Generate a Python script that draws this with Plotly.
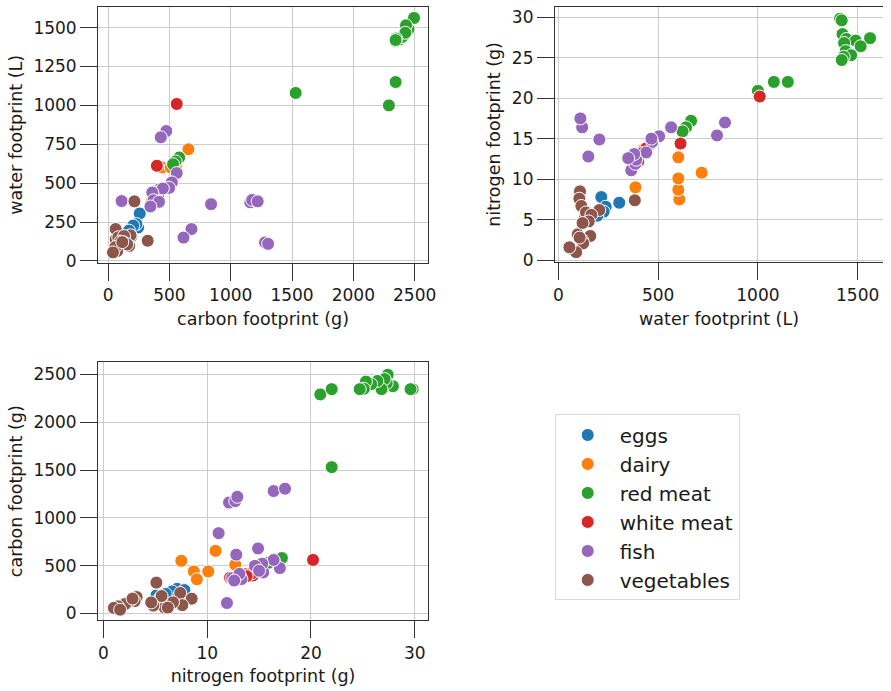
import plotly.graph_objects as go

categories = ["eggs", "dairy", "red meat", "white meat", "fish", "vegetables"]
colors = ["#1f77b4", "#ff7f0e", "#2ca02c", "#d62728", "#9467bd", "#8c564b"]

eggs_carbon = [258, 245, 231, 205, 189, 170]
eggs_water = [305, 215, 237, 227, 157, 195]
eggs_nitrogen = [7.1, 7.8, 6.6, 6.0, 5.1, 5.5]

dairy_carbon = [551, 440, 358, 440, 655, 510]
dairy_water = [606, 601, 386, 601, 718, 601]
dairy_nitrogen = [7.5, 8.7, 9.0, 10.1, 10.8, 12.7]

redmeat_carbon = [2290, 2345, 1530, 580, 550, 530, 2345, 2345, 2376, 2495, 2407, 2450, 2345, 2430, 2397, 2424, 2349, 2345]
redmeat_water = [1000, 1150, 1080, 665, 640, 622, 1412, 1420, 1424, 1562, 1444, 1490, 1432, 1515, 1440, 1467, 1430, 1420]
redmeat_nitrogen = [20.9, 22.0, 22.0, 17.2, 16.4, 15.9, 29.8, 29.6, 27.9, 27.4, 27.3, 27.1, 26.8, 26.4, 25.8, 25.3, 25.1, 24.7]

whitemeat_carbon = [560, 398, 410, 420, 390, 380, 375]
whitemeat_water = [1009, 612, 430, 460, 440, 420, 400]
whitemeat_nitrogen = [20.2, 14.4, 13.7, 14.3, 13.8, 13.2, 12.2]

fish_carbon = [1280, 1305, 1160, 1175, 1220, 840, 680, 615, 110, 475, 430, 560, 520, 498, 447, 360, 370, 415, 345]
fish_water = [119, 110, 377, 392, 383, 365, 205, 150, 385, 835, 795, 565, 505, 470, 466, 440, 390, 380, 350]
fish_nitrogen = [16.4, 17.5, 12.1, 12.7, 12.9, 11.1, 14.9, 12.8, 11.9, 17.0, 15.4, 16.4, 15.3, 14.6, 15.0, 13.3, 12.4, 13.1, 12.6]

veg_carbon = [215, 323, 155, 88, 117, 62, 62, 183, 83, 172, 130, 128, 100, 75, 59, 156, 40, 116]
veg_water = [383, 130, 108, 105, 115, 138, 205, 165, 152, 97, 160, 119, 124, 64, 89, 106, 55, 121]
veg_nitrogen = [7.4, 5.1, 8.5, 7.6, 6.7, 5.9, 6.2, 5.6, 4.8, 3.2, 3.0, 2.5, 2.1, 1.4, 1.0, 2.8, 1.6, 4.6]

data = {
    "eggs": (eggs_carbon, eggs_water, eggs_nitrogen),
    "dairy": (dairy_carbon, dairy_water, dairy_nitrogen),
    "red meat": (redmeat_carbon, redmeat_water, redmeat_nitrogen),
    "white meat": (whitemeat_carbon, whitemeat_water, whitemeat_nitrogen),
    "fish": (fish_carbon, fish_water, fish_nitrogen),
    "vegetables": (veg_carbon, veg_water, veg_nitrogen),
}

W, H = 891, 691
FONT = "DejaVu Sans"
TXT = "#1a1a1a"

fig = go.Figure()
for cat, col in zip(categories, colors):
    c, w, n = data[cat]
    mk = dict(color=col, size=13, line=dict(color="white", width=1))
    fig.add_trace(go.Scatter(x=c, y=w, mode="markers", marker=mk, name=cat,
                             legendgroup=cat, showlegend=False, xaxis="x", yaxis="y"))
    fig.add_trace(go.Scatter(x=w, y=n, mode="markers", marker=mk, name=cat,
                             legendgroup=cat, showlegend=False, xaxis="x2", yaxis="y2"))
    fig.add_trace(go.Scatter(x=n, y=c, mode="markers", marker=mk, name=cat,
                             legendgroup=cat, showlegend=True, xaxis="x3", yaxis="y3"))


def px_x(a, b):
    return [a / W, min(b / W, 1.0)]


def px_y(top, bottom):
    return [1 - bottom / H, 1 - top / H]


axis_common = dict(
    showline=True, mirror=True, linecolor="#333333", linewidth=1.3,
    showgrid=True, gridcolor="#cccccc", gridwidth=1.2, zeroline=False,
    ticks="outside", ticklen=17, tickwidth=1.3, tickcolor="#333333",
    tickfont=dict(family=FONT, size=17, color=TXT),
)

def title(t, standoff):
    return dict(text=t, font=dict(family=FONT, size=17.5, color=TXT), standoff=standoff)

fig.update_layout(
    width=W, height=H, autosize=False,
    margin=dict(l=0, r=0, t=0, b=0),
    paper_bgcolor="white", plot_bgcolor="white",
    font=dict(family=FONT, color=TXT),
    xaxis=dict(axis_common, domain=px_x(97.3, 430.7), range=[-80.6, 2608],
               anchor="y", tickvals=[0, 500, 1000, 1500, 2000, 2500],
               title=title("carbon footprint (g)", 8)),
    yaxis=dict(axis_common, domain=px_y(6.7, 266), range=[-12.7, 1635],
               anchor="x", tickvals=[0, 250, 500, 750, 1000, 1250, 1500],
               title=title("water footprint (L)", 6)),
    xaxis2=dict(axis_common, domain=px_x(559.3, 891), range=[-17, 1627],
                anchor="y2", tickvals=[0, 500, 1000, 1500],
                title=title("water footprint (L)", 8)),
    yaxis2=dict(axis_common, domain=px_y(6.7, 265.3), range=[-0.24, 31.29],
                anchor="x2", tickvals=[0, 5, 10, 15, 20, 25, 30], mirror=False,
                title=title("nitrogen footprint (g)", 6)),
    xaxis3=dict(axis_common, domain=px_x(97.3, 430.7), range=[-0.51, 31.27],
                anchor="y3", tickvals=[0, 10, 20, 30],
                title=title("nitrogen footprint (g)", 8)),
    yaxis3=dict(axis_common, domain=px_y(366.7, 627.3), range=[-68, 2624],
                anchor="x3", tickvals=[0, 500, 1000, 1500, 2000, 2500],
                title=title("carbon footprint (g)", 6)),
    legend=dict(x=559 / W, y=1 - 419.3 / H, xanchor="left", yanchor="top",
                font=dict(family=FONT, size=20, color=TXT),
                bordercolor="#d9d9d9", borderwidth=1, bgcolor="white",
                tracegroupgap=0, itemwidth=54),
)

fig.write_html("out.html")
